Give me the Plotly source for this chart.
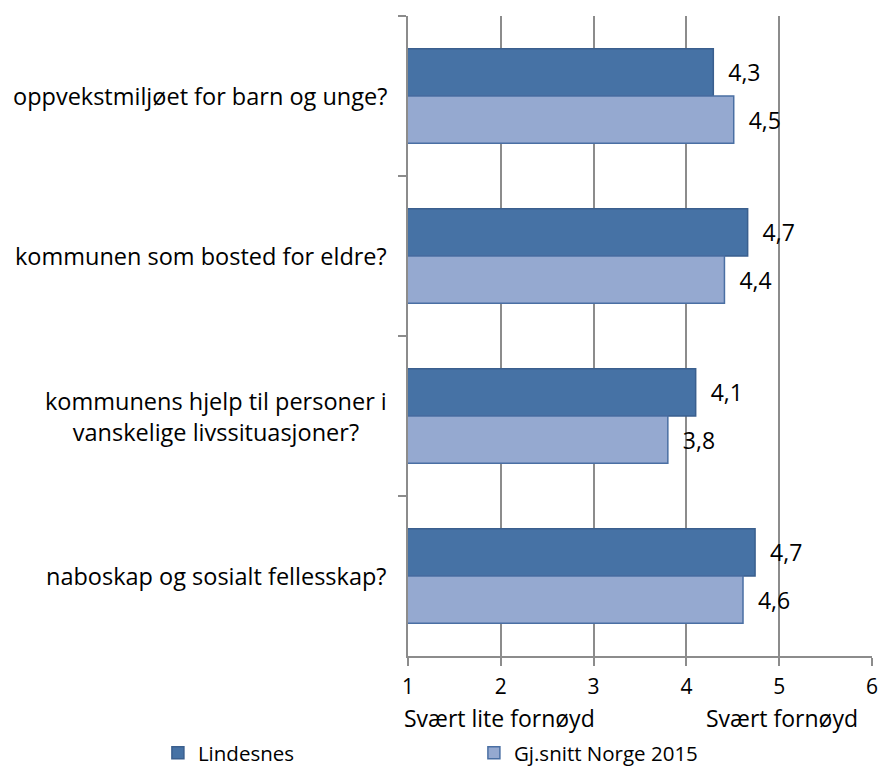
import plotly.graph_objects as go

categories = [
    "oppvekstmiljøet for barn og unge?",
    "kommunen som bosted for eldre?",
    "kommunens hjelp til personer i<br>vanskelige livssituasjoner?",
    "naboskap og sosialt fellesskap?",
]
lindesnes = [4.29, 4.66, 4.10, 4.74]
norge = [4.51, 4.41, 3.80, 4.61]
series_names = ["Lindesnes", "Gj.snitt Norge 2015"]
x_ticks = [1, 2, 3, 4, 5, 6]
scale_labels = [(1, "Svært lite fornøyd"), (5, "Svært fornøyd")]

FONT = "Open Sans"
NB = "\u00a0" * 2

fig = go.Figure()
fig.add_trace(go.Bar(
    y=categories, x=lindesnes, base=0, orientation="h", name=series_names[0],
    marker=dict(color="#4672A5", line=dict(color="#3A5F8E", width=1.5)),
    texttemplate=NB + "%{x:.1f}", textposition="outside",
    textfont=dict(family=FONT, size=23, color="#000000"), cliponaxis=False,
))
fig.add_trace(go.Bar(
    y=categories, x=norge, base=0, orientation="h", name=series_names[1],
    marker=dict(color="#95A9D0", line=dict(color="#4A6FA3", width=1.5)),
    texttemplate=NB + "%{x:.1f}", textposition="outside",
    textfont=dict(family=FONT, size=23, color="#000000"), cliponaxis=False,
))

annotations = []
for c in categories:
    annotations.append(dict(
        x=-0.041, xref="paper", y=c, yref="y", text=c, showarrow=False,
        xanchor="right", yanchor="middle", align="center",
        font=dict(family=FONT, size=23.5, color="#000000"),
    ))
for v, t in scale_labels:
    annotations.append(dict(
        x=v, xref="x", y=0, yref="paper", text=t, showarrow=False,
        xanchor="left" if v == 1 else "center", yanchor="top",
        xshift=-6 if v == 1 else 3, yshift=-44,
        font=dict(family=FONT, size=23, color="#000000"),
    ))

fig.update_layout(
    width=884, height=769,
    margin=dict(l=408, r=12, t=16, b=113, autoexpand=False),
    paper_bgcolor="white", plot_bgcolor="white",
    barmode="group", bargap=0.41, bargroupgap=0,
    separators=", ",
    font=dict(family=FONT, size=20, color="#000000"),
    showlegend=True,
    legend=dict(orientation="h", x=-0.539, xanchor="left", y=-0.12, yanchor="top",
                entrywidth=271, entrywidthmode="pixels",
                font=dict(family=FONT, size=20.5, color="#000000")),
    annotations=annotations,
    xaxis=dict(range=[1, 6], tickvals=x_ticks, ticktext=[str(t) for t in x_ticks],
               showgrid=True, gridcolor="#8C8C8C", gridwidth=1.5,
               showline=True, linecolor="#8C8C8C", linewidth=1.5,
               ticks="outside", ticklen=8, tickcolor="#8C8C8C", tickwidth=1.5,
               ticklabelstandoff=3,
               tickfont=dict(family=FONT, size=21, color="#000000"), zeroline=False),
    yaxis=dict(autorange=False, range=[3.5, -0.5], type="category",
               showticklabels=False, showgrid=False,
               showline=True, linecolor="#8C8C8C", linewidth=1.5,
               ticks="outside", ticklen=8, tickcolor="#8C8C8C", tickwidth=1.5,
               tickson="boundaries"),
)

fig.write_html("out.html", config={"displayModeBar": False},
               post_script="document.body.style.margin='0px';")
